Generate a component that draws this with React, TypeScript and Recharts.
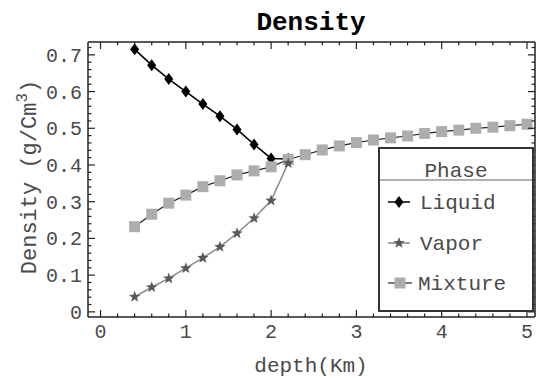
import React from 'react';
import { LineChart, Line, XAxis, YAxis } from 'recharts';

const liquidDepth = [0.4, 0.6, 0.8, 1.0, 1.2, 1.4, 1.6, 1.8, 2.0, 2.2];
const liquidDensity = [0.715, 0.672, 0.634, 0.6, 0.566, 0.533, 0.497, 0.456, 0.418, 0.416];

const vaporDepth = [0.4, 0.6, 0.8, 1.0, 1.2, 1.4, 1.6, 1.8, 2.0, 2.2];
const vaporDensity = [0.041, 0.067, 0.091, 0.119, 0.147, 0.177, 0.214, 0.255, 0.303, 0.405];

const mixtureDepth = [
    0.4, 0.6, 0.8, 1.0, 1.2, 1.4, 1.6, 1.8, 2.0, 2.2, 2.4, 2.6,
    2.8, 3.0, 3.2, 3.4, 3.6, 3.8, 4.0, 4.2, 4.4, 4.6, 4.8, 5.0,
];
const mixtureDensity = [
    0.232, 0.266, 0.296, 0.318, 0.341, 0.357, 0.373, 0.384, 0.395, 0.415, 0.428, 0.441,
    0.452, 0.461, 0.468, 0.474, 0.479, 0.486, 0.491, 0.495, 0.5, 0.503, 0.507, 0.511,
];

const xMajorTicks = [0, 1, 2, 3, 4, 5];
const yMajorTicks = [0, 0.1, 0.2, 0.3, 0.4, 0.5, 0.6, 0.7];

// minor ticks every 0.2 on x, every 0.02 on y
const xTicks = Array.from({ length: 26 }, (_, i) => Math.round(i * 2) / 10);
const yTicks = Array.from({ length: 37 }, (_, i) => Math.round(i * 2) / 100);

const FONT = '"Liberation Mono", "Courier New", monospace';
const TEXT = '#4a4a4a';
const FRAME = '#222';

const zip = (xs: number[], ys: number[]) => xs.map((d, i) => ({ depth: d, density: ys[i] }));

const liquidData = zip(liquidDepth, liquidDensity);
const vaporData = zip(vaporDepth, vaporDensity);
const mixtureData = zip(mixtureDepth, mixtureDensity);

const isMajor = (v: number, majors: number[]) => majors.some((m) => Math.abs(m - v) < 1e-6);

function makeTick(side: 'bottom' | 'top' | 'left' | 'right', majors: number[]) {
    return (props: any) => {
        const { x, y, payload } = props;
        const major = isMajor(payload.value, majors);
        const len = major ? 7 : 3.5;
        if (side === 'bottom') {
            return (
                <g>
                    <line x1={x} y1={y} x2={x} y2={y - len} stroke={FRAME} strokeWidth={1.2} />
                    {major && (
                        <text x={x} y={y + 21} textAnchor="middle" fontFamily={FONT} fontSize={20} fill={TEXT}>
                            {payload.value}
                        </text>
                    )}
                </g>
            );
        }
        if (side === 'top') {
            return <line x1={x} y1={y} x2={x} y2={y + len} stroke={FRAME} strokeWidth={1.2} />;
        }
        if (side === 'left') {
            return (
                <g>
                    <line x1={x} y1={y} x2={x + len} y2={y} stroke={FRAME} strokeWidth={1.2} />
                    {major && (
                        <text x={x - 6} y={y} dy="0.35em" textAnchor="end" fontFamily={FONT} fontSize={20} fill={TEXT}>
                            {payload.value}
                        </text>
                    )}
                </g>
            );
        }
        return <line x1={x} y1={y} x2={x - len} y2={y} stroke={FRAME} strokeWidth={1.2} />;
    };
}

const Diamond = ({ cx, cy }: any) => {
    if (cx == null || cy == null) return null;
    return <path d={`M${cx},${cy - 6} L${cx + 4.5},${cy} L${cx},${cy + 6} L${cx - 4.5},${cy} Z`} fill="#000" />;
};

const starPath = (cx: number, cy: number, ro: number, ri: number) => {
    let d = '';
    for (let i = 0; i < 10; i++) {
        const r = i % 2 === 0 ? ro : ri;
        const a = -Math.PI / 2 + (i * Math.PI) / 5;
        d += (i === 0 ? 'M' : 'L') + (cx + r * Math.cos(a)).toFixed(2) + ',' + (cy + r * Math.sin(a)).toFixed(2);
    }
    return d + 'Z';
};

const Star = ({ cx, cy }: any) => {
    if (cx == null || cy == null) return null;
    return <path d={starPath(cx, cy, 6, 2.5)} fill="#5a5a5a" />;
};

const Square = ({ cx, cy }: any) => {
    if (cx == null || cy == null) return null;
    return <rect x={cx - 5.5} y={cy - 5.5} width={11} height={11} fill="#adadad" />;
};

export default function App() {
    return (
        <div style={{ position: 'absolute', left: 0, top: 0, width: 536, height: 378, background: '#fff' }}>
            <LineChart width={536} height={378} margin={{ top: 41, right: 0, bottom: 0, left: 0 }}>
                <XAxis
                    xAxisId="b"
                    dataKey="depth"
                    type="number"
                    domain={[-0.147, 5.094]}
                    allowDataOverflow
                    ticks={xTicks}
                    interval={0}
                    height={61}
                    tickSize={0}
                    tickMargin={0}
                    tickLine={false}
                    axisLine={{ stroke: FRAME, strokeWidth: 1.5 }}
                    tick={makeTick('bottom', xMajorTicks)}
                />
                <XAxis
                    xAxisId="t"
                    orientation="top"
                    dataKey="depth"
                    type="number"
                    domain={[-0.147, 5.094]}
                    allowDataOverflow
                    ticks={xTicks}
                    interval={0}
                    height={1}
                    tickSize={0}
                    tickMargin={0}
                    tickLine={false}
                    axisLine={{ stroke: FRAME, strokeWidth: 1.5 }}
                    tick={makeTick('top', xMajorTicks)}
                />
                <YAxis
                    yAxisId="l"
                    type="number"
                    domain={[-0.014, 0.735]}
                    allowDataOverflow
                    ticks={yTicks}
                    interval={0}
                    width={88}
                    tickSize={0}
                    tickMargin={0}
                    tickLine={false}
                    axisLine={{ stroke: FRAME, strokeWidth: 1.5 }}
                    tick={makeTick('left', yMajorTicks)}
                />
                <YAxis
                    yAxisId="r"
                    orientation="right"
                    type="number"
                    domain={[-0.014, 0.735]}
                    allowDataOverflow
                    ticks={yTicks}
                    interval={0}
                    width={1}
                    tickSize={0}
                    tickMargin={0}
                    tickLine={false}
                    axisLine={{ stroke: FRAME, strokeWidth: 1.5 }}
                    tick={makeTick('right', yMajorTicks)}
                />
                <Line
                    xAxisId="b"
                    yAxisId="l"
                    data={liquidData}
                    dataKey="density"
                    type="linear"
                    stroke="#000"
                    strokeWidth={1.5}
                    dot={<Diamond />}
                    activeDot={false}
                    isAnimationActive={false}
                />
                <Line
                    xAxisId="b"
                    yAxisId="l"
                    data={mixtureData}
                    dataKey="density"
                    type="linear"
                    stroke="#222"
                    strokeWidth={1.2}
                    dot={<Square />}
                    activeDot={false}
                    isAnimationActive={false}
                />
                <Line
                    xAxisId="b"
                    yAxisId="l"
                    data={vaporData}
                    dataKey="density"
                    type="linear"
                    stroke="#8a8a8a"
                    strokeWidth={1.5}
                    dot={<Star />}
                    activeDot={false}
                    isAnimationActive={false}
                />
            </LineChart>

            <svg
                width={536}
                height={378}
                style={{ position: 'absolute', left: 0, top: 0, pointerEvents: 'none' }}
            >
                <text x={311} y={30} textAnchor="middle" fontFamily={FONT} fontWeight="bold" fontSize={26} fill="#000">
                    Density
                </text>
                <text x={311} y={372} textAnchor="middle" fontFamily={FONT} fontSize={21} fill={TEXT}>
                    depth(Km)
                </text>
                <text
                    x={36}
                    y={177}
                    textAnchor="middle"
                    transform="rotate(-90 36 177)"
                    fontFamily={FONT}
                    fontSize={22}
                    fill={TEXT}
                >
                    Density (g/Cm
                    <tspan dy={-9} fontSize={16}>3</tspan>
                    <tspan dy={9}>)</tspan>
                </text>

                <g>
                    <rect x={379} y={148} width={154} height={163} fill="#fff" stroke="#333" strokeWidth={2} />
                    <text x={456} y={177} textAnchor="middle" fontFamily={FONT} fontSize={21} fill={TEXT}>
                        Phase
                    </text>
                    <line x1={380} y1={180} x2={532} y2={180} stroke="#999" strokeWidth={1.5} />

                    <line x1={388} y1={202} x2={410} y2={202} stroke="#000" strokeWidth={1.5} />
                    <Diamond cx={399} cy={202} />
                    <text x={420} y={209} fontFamily={FONT} fontSize={21} fill={TEXT}>
                        Liquid
                    </text>

                    <line x1={388} y1={243} x2={410} y2={243} stroke="#8a8a8a" strokeWidth={1.5} />
                    <Star cx={399} cy={243} />
                    <text x={420} y={250} fontFamily={FONT} fontSize={21} fill={TEXT}>
                        Vapor
                    </text>

                    <line x1={388} y1={283} x2={412} y2={283} stroke="#222" strokeWidth={1.2} />
                    <Square cx={400} cy={283} />
                    <text x={418} y={290} fontFamily={FONT} fontSize={21} fill={TEXT}>
                        Mixture
                    </text>
                </g>
            </svg>
        </div>
    );
}
